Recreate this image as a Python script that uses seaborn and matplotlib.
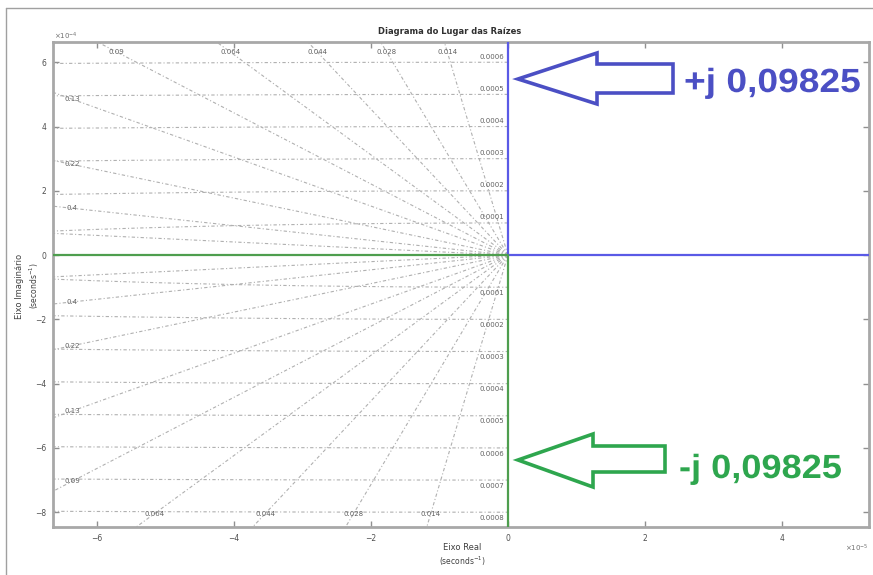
import numpy as np
import pandas as pd
import matplotlib
matplotlib.use("Agg")
import matplotlib.pyplot as plt
from matplotlib.patches import Polygon, PathPatch
from matplotlib.textpath import TextPath
from matplotlib.font_manager import FontProperties
from matplotlib.transforms import Affine2D
import seaborn as sns

# --- dados (unidades reais, s^-1) ---
X_SCALE = 1e-5
Y_SCALE = 1e-4
x_limits = [-6.64e-5, 5.27e-5]
y_limits = [-8.46e-4, 6.63e-4]

# ramos do lugar das raizes
blue_re = [0.0, 0.0, 6.0e-5]
blue_im = [7.0e-4, 0.0, 0.0]
green_re = [-7.0e-5, 0.0, 0.0]
green_im = [0.0, 0.0, -9.0e-4]

# grade sgrid
zeta_values = [0.014, 0.028, 0.044, 0.064, 0.09, 0.13, 0.22, 0.4, 0.7]
zeta_labels = ["0.014", "0.028", "0.044", "0.064", "0.09", "0.13", "0.22", "0.4", ""]
wn_values = [0.0001, 0.0002, 0.0003, 0.0004, 0.0005, 0.0006, 0.0007, 0.0008]
wn_labels = ["0.0001", "0.0002", "0.0003", "0.0004", "0.0005", "0.0006", "0.0007", "0.0008"]

x_ticks = [-6, -4, -2, 0, 2, 4]
y_ticks = [-8, -6, -4, -2, 0, 2, 4, 6]

annot_texts = ["+j 0,09825", "-j 0,09825"]
annot_colors = ["#4b4fc4", "#2ea64e"]

sns.set_theme(style="white")
plt.rcParams['font.family'] = ['DejaVu Sans']

W, H = 873, 575
fig = plt.figure(figsize=(W / 100, H / 100), dpi=100)
ax = fig.add_axes([53 / W, 1 - 527 / H, 816 / W, 485 / H])

xmin, xmax = x_limits[0] / X_SCALE, x_limits[1] / X_SCALE
ymin, ymax = y_limits[0] / Y_SCALE, y_limits[1] / Y_SCALE

grid_kw = dict(color="#b0b0b0", lw=0.8, ls=(0, (3, 2, 1, 2)), zorder=1)
lab_kw = dict(fontsize=5, color="#606060", zorder=3)

# circulos de wn (semiplano esquerdo)
theta = np.linspace(np.pi / 2, 3 * np.pi / 2, 400)
for wn, lab in zip(wn_values, wn_labels):
    ax.plot(wn * np.cos(theta) / X_SCALE, wn * np.sin(theta) / Y_SCALE, **grid_kw)
    yt = wn / Y_SCALE
    if yt < ymax - 0.2:
        ax.text(-0.05, yt + 0.08, lab, ha="right", va="bottom", **lab_kw)
    if -yt > ymin + 0.2:
        ax.text(-0.05, -yt - 0.08, lab, ha="right", va="top", **lab_kw)

# linhas de amortecimento
for z, lab in zip(zeta_values, zeta_labels):
    dx = -z * 1e-3 / X_SCALE
    dy = np.sqrt(1 - z ** 2) * 1e-3 / Y_SCALE
    for sgn in (1, -1):
        ax.plot([0, dx], [0, sgn * dy], **grid_kw)
        if not lab:
            continue
        # ponto onde a linha sai da caixa (um pouco para dentro)
        x_edge = xmin + 0.28
        y_edge = (ymax - 0.31) if sgn > 0 else (ymin + 0.42)
        t = min(x_edge / dx, y_edge / (sgn * dy))
        ax.text(t * dx, t * sgn * dy, lab, ha="center", va="center", **lab_kw)

# lugar das raizes
df_blue = pd.DataFrame({"re": np.array(blue_re) / X_SCALE, "im": np.array(blue_im) / Y_SCALE})
df_green = pd.DataFrame({"re": np.array(green_re) / X_SCALE, "im": np.array(green_im) / Y_SCALE})
sns.lineplot(data=df_blue, x="re", y="im", sort=False, estimator=None, color="#5a5ae6", lw=1.6, ax=ax, zorder=4)
sns.lineplot(data=df_green, x="re", y="im", sort=False, estimator=None, color="#4e9e4e", lw=1.6, ax=ax, zorder=4)

ax.set_xlim(xmin, xmax)
ax.set_ylim(ymin, ymax)
ax.set_xticks(x_ticks)
ax.set_yticks(y_ticks)
ax.tick_params(direction="in", length=4, width=1, colors="#909090", labelcolor="#505050",
               labelsize=5.5, top=True, right=True, left=True, bottom=True, pad=5)
for s in ax.spines.values():
    s.set_color("#a8a8a8")
    s.set_linewidth(2)
ax.set_xlabel("")
ax.set_ylabel("")

def px(x, y):
    return (x / W, 1 - y / H)

fig.text(*px(450, 32), "Diagrama do Lugar das Raízes", ha="center", va="center",
         fontsize=6, fontweight="bold", color="#303030")
fig.text(*px(462, 547), "Eixo Real", ha="center", va="center", fontsize=6, color="#404040")
fig.text(*px(462, 561), "(seconds$^{-1}$)", ha="center", va="center", fontsize=5.5, color="#404040")
fig.text(*px(20, 286), "Eixo Imaginário", ha="center", va="center", rotation=90, fontsize=6, color="#404040")
fig.text(*px(34, 286), "(seconds$^{-1}$)", ha="center", va="center", rotation=90, fontsize=5.5, color="#404040")
fig.text(*px(66, 36), r"$\times10^{-4}$", ha="center", va="center", fontsize=5, color="#707070")
fig.text(*px(857, 548), r"$\times10^{-5}$", ha="center", va="center", fontsize=5, color="#707070")

# moldura da captura
fig.add_artist(plt.Line2D([6 / W, 1], [1 - 8 / H, 1 - 8 / H], transform=fig.transFigure, color="#a0a0a0", lw=1))
fig.add_artist(plt.Line2D([6 / W, 6 / W], [0, 1 - 8 / H], transform=fig.transFigure, color="#a0a0a0", lw=1))

# setas de anotacao
def arrow(tip_x, tip_y, back_x, head_top, head_bot, body_top, body_bot, right_x):
    pts = [(tip_x, tip_y), (back_x, head_top), (back_x, body_top), (right_x, body_top),
           (right_x, body_bot), (back_x, body_bot), (back_x, head_bot)]
    return [px(x, y) for x, y in pts]

fig.add_artist(Polygon(arrow(518, 79, 597, 53, 104, 64, 93, 673), closed=True, fill=False,
                       edgecolor=annot_colors[0], lw=2.6, joinstyle="miter", transform=fig.transFigure))
fig.add_artist(Polygon(arrow(518, 460, 593, 434, 487, 446, 472, 665), closed=True, fill=False,
                       edgecolor=annot_colors[1], lw=2.6, joinstyle="miter", transform=fig.transFigure))

# texto largo (captura esticada na horizontal)
bold_fp = FontProperties(family=["Liberation Sans", "DejaVu Sans"], weight="bold")

def wide_text(x_left, y_base, text, color, em=33.5, stretch=1.11):
    tp = TextPath((0, 0), text, size=em, prop=bold_fp)
    tr = Affine2D().scale(stretch, 1).translate(x_left, H - y_base).scale(1 / W, 1 / H) + fig.transFigure
    fig.add_artist(PathPatch(tp, transform=tr, facecolor=color, edgecolor="none"))

wide_text(684, 92, annot_texts[0], annot_colors[0])
wide_text(679, 478, annot_texts[1], annot_colors[1], stretch=1.08)

fig.savefig("out.png", dpi=100)
